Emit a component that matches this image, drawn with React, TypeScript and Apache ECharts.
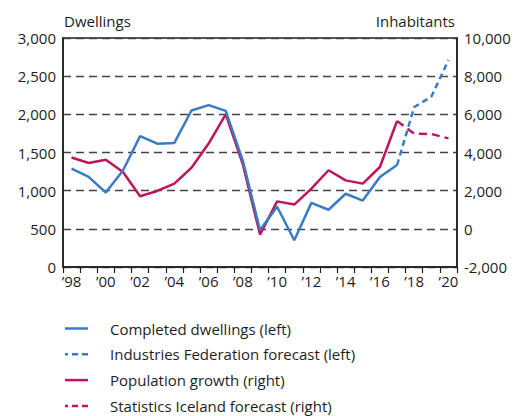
import React, { useEffect, useRef } from "react";
import * as echarts from "echarts";

const categories = ["’98","’99","’00","’01","’02","’03","’04","’05","’06","’07","’08","’09","’10","’11","’12","’13","’14","’15","’16","’17","’18","’19","’20"];

const completedDwellings = [1290, 1180, 975, 1265, 1715, 1615, 1625, 2050, 2120, 2045, 1390, 485, 790, 350, 840, 750, 960, 870, 1180, 1335, null, null, null];
const federationForecast = [null, null, null, null, null, null, null, null, null, null, null, null, null, null, null, null, null, null, null, 1335, 2095, 2230, 2710];
const populationGrowth = [3740, 3450, 3625, 2980, 1705, 1985, 2370, 3200, 4470, 6000, 3380, -300, 1440, 1270, 2110, 3070, 2540, 2370, 3240, 5650, null, null, null];
const statisticsForecast = [null, null, null, null, null, null, null, null, null, null, null, null, null, null, null, null, null, null, null, 5650, 4990, 4970, 4740];

const seriesNames = [
  "Completed dwellings (left)",
  "Industries Federation forecast (left)",
  "Population growth (right)",
  "Statistics Iceland forecast (right)",
];

const BLUE = "#3a7cc3";
const RED = "#c0145c";
const INK = "#1e1e1e";
const FONT = "'Open Sans', 'Noto Sans', sans-serif";

const fmt = (v: number) => v.toLocaleString("en-US");

const legendColors = [BLUE, BLUE, RED, RED];
const legendDashes: (number[] | null)[] = [null, [6, 4], null, [6, 4]];

export default function App() {
  const ref = useRef<HTMLDivElement>(null);
  useEffect(() => {
    if (!ref.current) return;
    const chart = echarts.init(ref.current, null, { renderer: "svg" });

    const legendGraphics: any[] = [];
    seriesNames.forEach((name, i) => {
      const cy = 328.5 + i * 25.8;
      legendGraphics.push({
        type: "line",
        shape: { x1: 65, y1: cy, x2: 88, y2: cy },
        style: {
          stroke: legendColors[i],
          lineWidth: 2.5,
          lineDash: legendDashes[i] || undefined,
          lineDashOffset: legendDashes[i] ? 3 : 0,
        },
      });
      legendGraphics.push({
        type: "text",
        x: 110,
        y: cy,
        style: {
          text: name,
          fontSize: 15,
          fill: INK,
          fontFamily: FONT,
          verticalAlign: "middle",
          align: "left",
        },
      });
    });

    chart.setOption({
      animation: false,
      backgroundColor: "#ffffff",
      textStyle: { fontFamily: FONT },
      grid: {
        left: 63,
        right: 57,
        top: 38,
        bottom: 149,
        show: true,
        borderColor: INK,
        borderWidth: 1.5,
        backgroundColor: "transparent",
      },
      graphic: [
        {
          type: "text",
          left: 64,
          top: 13,
          style: { text: "Dwellings", fontSize: 15, fill: INK, fontFamily: FONT },
        },
        {
          type: "text",
          right: 59,
          top: 13,
          style: { text: "Inhabitants", fontSize: 15, fill: INK, fontFamily: FONT },
        },
        ...legendGraphics,
      ],
      xAxis: {
        type: "category",
        data: categories,
        boundaryGap: true,
        axisLine: { show: true, lineStyle: { color: INK, width: 1.5 } },
        axisTick: { show: true, interval: 0, length: 6, lineStyle: { color: INK, width: 1.2 } },
        axisLabel: { interval: 1, fontSize: 15, color: INK, margin: 6, fontFamily: FONT },
        splitLine: { show: false },
      },
      yAxis: [
        {
          type: "value",
          min: 0,
          max: 3000,
          interval: 500,
          axisLine: { show: true, lineStyle: { color: INK, width: 1.5 } },
          axisTick: { show: false },
          axisLabel: { fontSize: 15, color: INK, margin: 7, formatter: fmt, fontFamily: FONT },
          splitLine: { show: true, lineStyle: { color: "#444", type: [8, 5], width: 1.3 } },
        },
        {
          type: "value",
          min: -2000,
          max: 10000,
          interval: 2000,
          position: "right",
          axisLine: { show: true, lineStyle: { color: INK, width: 1.5 } },
          axisTick: { show: false },
          axisLabel: { fontSize: 15, color: INK, margin: 7, formatter: fmt, fontFamily: FONT },
          splitLine: { show: false },
        },
      ],
      series: [
        {
          name: seriesNames[2],
          type: "line",
          yAxisIndex: 1,
          data: populationGrowth,
          symbol: "none",
          lineStyle: { color: RED, width: 2.5 },
          itemStyle: { color: RED },
          z: 2,
        },
        {
          name: seriesNames[3],
          type: "line",
          yAxisIndex: 1,
          data: statisticsForecast,
          symbol: "none",
          lineStyle: { color: RED, width: 2.5, type: [8, 5] },
          itemStyle: { color: RED },
          z: 2,
        },
        {
          name: seriesNames[0],
          type: "line",
          yAxisIndex: 0,
          data: completedDwellings,
          symbol: "none",
          lineStyle: { color: BLUE, width: 2.5 },
          itemStyle: { color: BLUE },
          z: 3,
        },
        {
          name: seriesNames[1],
          type: "line",
          yAxisIndex: 0,
          data: federationForecast,
          symbol: "none",
          lineStyle: { color: BLUE, width: 2.5, type: [6, 4] },
          itemStyle: { color: BLUE },
          z: 3,
        },
      ],
    });
    return () => chart.dispose();
  }, []);
  return (
    <div
      ref={ref}
      style={{ position: "fixed", left: 0, top: 0, width: 514, height: 416 }}
    />
  );
}
